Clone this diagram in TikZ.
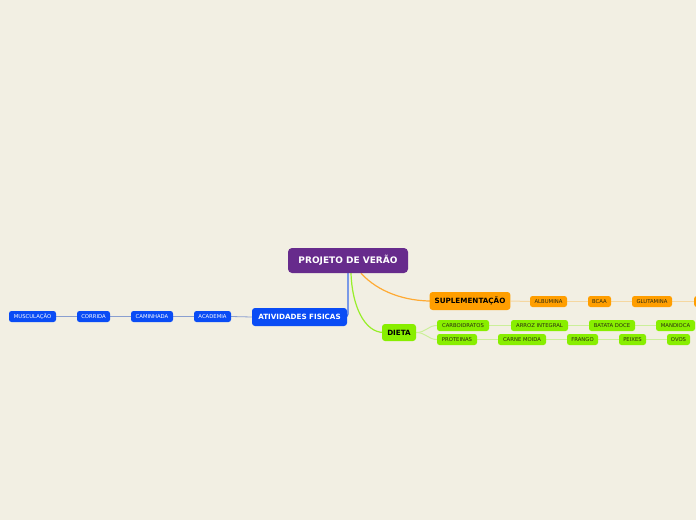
\documentclass[tikz,border=0pt]{standalone}
\usepackage{fontspec}
\usetikzlibrary{backgrounds}
\setmainfont{DejaVu Sans}
\definecolor{bg}{HTML}{F2EFE3}
\definecolor{rootc}{HTML}{672B8C}
\definecolor{bluec}{HTML}{0A4CF5}
\definecolor{orangec}{HTML}{FF9E00}
\definecolor{greenc}{HTML}{88EE00}
\definecolor{bluer}{HTML}{3A6CEA}
\definecolor{oranger}{HTML}{FFAA33}
\definecolor{greenr}{HTML}{98EE2A}
\definecolor{bluel}{HTML}{8A9FD0}
\definecolor{orangel}{HTML}{F5D7A0}
\definecolor{greenl}{HTML}{CBEF99}
\definecolor{darktxt}{HTML}{2A2A10}
\tikzset{
  base/.style={rounded corners=2.5pt, anchor=center, inner ysep=0pt, align=center},
  rootbox/.style={base, fill=rootc, text=white, font=\fontsize{9}{10}\selectfont\bfseries, minimum width=120pt, minimum height=25pt, rounded corners=4pt},
  mainbox/.style={base, font=\fontsize{7.2}{8}\selectfont\bfseries, minimum height=18pt, inner xsep=5pt, rounded corners=3pt},
  bluemain/.style={mainbox, fill=bluec, text=white},
  orangemain/.style={mainbox, fill=orangec, text=black},
  greenmain/.style={mainbox, fill=greenc, text=black, minimum height=17pt},
  leaf/.style={base, font=\fontsize{5.3}{6}\selectfont, minimum height=11pt, inner xsep=3.5pt},
  blueleaf/.style={leaf, fill=bluec, text=white},
  orangeleaf/.style={leaf, fill=orangec, text=darktxt},
  greenleaf/.style={leaf, fill=greenc, text=darktxt},
  rline/.style={line width=1.2pt},
  bline/.style={draw=bluel, line width=0.8pt},
  oline/.style={draw=orangel, line width=1pt},
  gline/.style={draw=greenl, line width=1pt},
}
\begin{document}
\begin{tikzpicture}[x=1pt,y=-1pt]
\begin{pgfonlayer}{background}
\fill[bg] (0,0) rectangle (696,520);
\end{pgfonlayer}
\useasboundingbox (0,0) rectangle (696,520);
% nodes
\node[rootbox] (root) at (348,260.5) {PROJETO DE VERÃO};
\node[bluemain, minimum width=95pt] (af) at (299.5,317) {ATIVIDADES FISICAS};
\node[orangemain, minimum width=78pt] (sup) at (470,301) {SUPLEMENTAÇÃO};
\node[greenmain, minimum width=34pt] (dieta) at (399,332.5) {DIETA};
% blue leaves
\node[blueleaf, minimum width=37pt] (acad) at (212.5,316.5) {ACADEMIA};
\node[blueleaf, minimum width=42pt] (cam) at (152,316.5) {CAMINHADA};
\node[blueleaf, minimum width=33pt] (corr) at (93.5,316.5) {CORRIDA};
\node[blueleaf, minimum width=47pt] (musc) at (32.5,316.5) {MUSCULAÇÃO};
% orange leaves
\node[orangeleaf, minimum width=37pt] (alb) at (548.5,301.5) {ALBUMINA};
\node[orangeleaf, minimum width=23pt] (bcaa) at (599.5,301.5) {BCAA};
\node[orangeleaf, minimum width=40pt] (glut) at (652,301.5) {GLUTAMINA};
\begin{scope}
\clip (0,0) rectangle (696,520);
\node[orangeleaf, minimum width=30pt, anchor=west] (next) at (694,301.5) {};
\end{scope}
% green leaves
\node[greenleaf, minimum width=52pt] (carb) at (463,325.5) {CARBOIDRATOS};
\node[greenleaf, minimum width=57pt] (arroz) at (539.5,325.5) {ARROZ INTEGRAL};
\node[greenleaf, minimum width=46pt] (batata) at (612,325.5) {BATATA DOCE};
\node[greenleaf, minimum width=39pt] (mand) at (675.5,325.5) {MANDIOCA};
\node[greenleaf, minimum width=40pt] (prot) at (457,339.5) {PROTEINAS};
\node[greenleaf, minimum width=48pt] (carne) at (522,339.5) {CARNE MOIDA};
\node[greenleaf, minimum width=31pt] (frango) at (582.5,339.5) {FRANGO};
\node[greenleaf, minimum width=27pt] (peixes) at (632.5,339.5) {PEIXES};
\node[greenleaf, minimum width=23pt] (ovos) at (678.5,339.5) {OVOS};
\begin{pgfonlayer}{background}
% root connectors
\draw[bluer, rline, rounded corners=3pt] (root.south) -- (root.south |- af.east) -- ([xshift=-2pt]af.east);
\draw[greenr, rline] ([xshift=3pt]root.south) .. controls (352,305) and (364,332.5) .. ([xshift=2pt]dieta.west);
\draw[oranger, rline] ([xshift=13pt]root.south) .. controls (378,292) and (405,301) .. ([xshift=2pt]sup.west);
% blue chain
\draw[bline] (af.west) -- (acad.east);
\draw[bline] (acad.west) -- (cam.east);
\draw[bline] (cam.west) -- (corr.east);
\draw[bline] (corr.west) -- (musc.east);
% orange chain
\draw[oline] (sup.east) -- (alb.west);
\draw[oline] (alb.east) -- (bcaa.west);
\draw[oline] (bcaa.east) -- (glut.west);
\draw[oline] (glut.east) -- (next.west);
% green chain
\draw[gline] (dieta.east) .. controls (426,332.5) and (428,325.5) .. (carb.west);
\draw[gline] (dieta.east) .. controls (426,332.5) and (428,339.5) .. (prot.west);
\draw[gline] (carb.east) -- (arroz.west);
\draw[gline] (arroz.east) -- (batata.west);
\draw[gline] (batata.east) -- (mand.west);
\draw[gline] (prot.east) -- (carne.west);
\draw[gline] (carne.east) -- (frango.west);
\draw[gline] (frango.east) -- (peixes.west);
\draw[gline] (peixes.east) -- (ovos.west);
\end{pgfonlayer}
\end{tikzpicture}
\end{document}
